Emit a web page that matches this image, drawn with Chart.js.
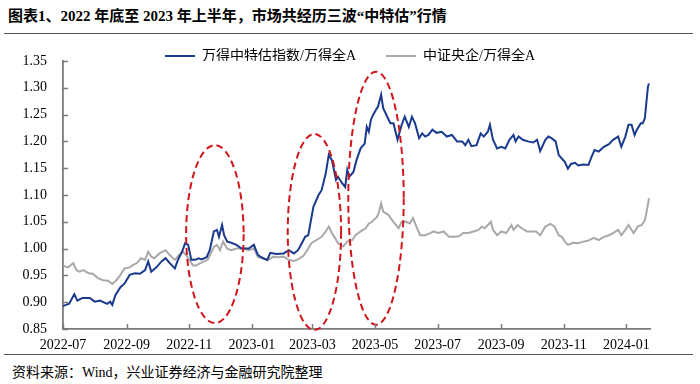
<!DOCTYPE html>
<html>
<head>
<meta charset="utf-8">
<script src="https://cdn.jsdelivr.net/npm/chart.js@4.4.1/dist/chart.umd.min.js"></script>
<style>
  html, body { margin: 0; padding: 0; background: #fff; }
  body { width: 700px; height: 384px; position: relative; overflow: hidden; }
  #title { position: absolute; left: 8px; top: 4px; font: bold 15px 'Liberation Serif', 'Noto Sans CJK SC', serif; color: #000; white-space: nowrap; }
  #topline { position: absolute; left: 4px; width: 689px; top: 33px; height: 0; border-top: 1.5px solid #555; }
  #botline { position: absolute; left: 4px; width: 689px; top: 354px; height: 0; border-top: 1.5px solid #555; }
  #source { position: absolute; left: 12px; top: 361px; font: 14px 'Liberation Serif', 'Noto Sans CJK SC', serif; color: #000; white-space: nowrap; }
  #wrap { position: absolute; left: 0; top: 19px; width: 700px; height: 335px; }
</style>
</head>
<body>
<div id="title">图表1、2022 年底至 2023 年上半年，市场共经历三波“中特估”行情</div>
<div id="topline"></div>
<div id="wrap"><canvas id="c" width="700" height="335"></canvas></div>
<div id="botline"></div>
<div id="source">资料来源：Wind，兴业证券经济与金融研究院整理</div>
<script>
// ---- data ----
const seriesNames = ['万得中特估指数/万得全A', '中证央企/万得全A'];

const blueDates = [
  '2022-07-01','2022-07-04','2022-07-07','2022-07-12','2022-07-15','2022-07-20','2022-07-27',
  '2022-08-01','2022-08-06','2022-08-13','2022-08-16','2022-08-18','2022-08-21','2022-08-26','2022-08-30',
  '2022-09-04','2022-09-09','2022-09-14','2022-09-19','2022-09-22','2022-09-25','2022-09-30',
  '2022-10-05','2022-10-09','2022-10-13','2022-10-18','2022-10-21','2022-10-25','2022-10-28','2022-10-31',
  '2022-11-03','2022-11-07','2022-11-10','2022-11-13','2022-11-18','2022-11-21','2022-11-25','2022-11-28','2022-11-30',
  '2022-12-03','2022-12-05','2022-12-08','2022-12-12','2022-12-17','2022-12-22','2022-12-29',
  '2023-01-03','2023-01-07','2023-01-12','2023-01-16','2023-01-19','2023-01-25',
  '2023-02-01','2023-02-06','2023-02-11','2023-02-15','2023-02-17','2023-02-22','2023-02-25',
  '2023-03-02','2023-03-07','2023-03-10','2023-03-14','2023-03-17','2023-03-20','2023-03-22','2023-03-24','2023-03-26','2023-03-30',
  '2023-04-02','2023-04-04','2023-04-06','2023-04-10','2023-04-13','2023-04-17','2023-04-21','2023-04-23','2023-04-25','2023-04-27','2023-04-29',
  '2023-05-02','2023-05-04','2023-05-07','2023-05-09','2023-05-13','2023-05-16','2023-05-19','2023-05-23','2023-05-27','2023-05-30',
  '2023-06-03','2023-06-06','2023-06-09','2023-06-13','2023-06-16','2023-06-19','2023-06-22','2023-06-26','2023-06-30',
  '2023-07-05','2023-07-10','2023-07-15','2023-07-20','2023-07-25','2023-07-28','2023-07-31',
  '2023-08-03','2023-08-08','2023-08-12','2023-08-15','2023-08-19','2023-08-21','2023-08-24','2023-08-28',
  '2023-09-01','2023-09-05','2023-09-09','2023-09-13','2023-09-15','2023-09-18','2023-09-22','2023-09-27',
  '2023-10-02','2023-10-06','2023-10-09','2023-10-14','2023-10-17','2023-10-20','2023-10-24','2023-10-27','2023-10-30',
  '2023-11-02','2023-11-05','2023-11-08','2023-11-12','2023-11-15','2023-11-20','2023-11-25','2023-11-28',
  '2023-12-01','2023-12-05','2023-12-10','2023-12-15','2023-12-19','2023-12-24','2023-12-27','2023-12-31',
  '2024-01-03','2024-01-06','2024-01-09','2024-01-11','2024-01-15','2024-01-17','2024-01-19','2024-01-21','2024-01-22','2024-01-23'
];
const blueValues = [
  0.893,0.895,0.897,0.915,0.903,0.908,0.908,
  0.901,0.903,0.897,0.901,0.895,0.913,0.928,0.935,
  0.951,0.954,0.953,0.960,0.976,0.957,0.965,
  0.976,0.982,0.973,0.963,0.979,0.994,1.010,1.007,
  0.979,0.979,0.982,0.980,0.984,0.997,1.032,1.035,1.022,
  1.044,1.025,1.013,1.011,1.007,1.000,1.000,
  1.007,0.988,0.982,0.979,0.992,0.990,
  0.991,0.997,0.991,0.997,1.004,1.022,1.025,
  1.078,1.100,1.109,1.140,1.175,1.165,1.147,1.128,1.134,1.122,
  1.115,1.147,1.134,1.143,1.165,1.187,1.196,1.227,1.218,1.240,1.249,
  1.259,1.265,1.287,1.262,1.246,1.234,1.234,1.203,1.231,1.246,
  1.227,1.246,1.234,1.206,1.215,1.209,1.212,1.222,1.216,
  1.218,1.209,1.212,1.200,1.200,1.193,1.203,
  1.191,1.193,1.215,1.209,1.218,1.231,1.203,1.187,
  1.190,1.187,1.203,1.212,1.200,1.209,1.203,1.200,
  1.198,1.203,1.182,1.203,1.209,1.206,1.200,1.175,1.168,
  1.162,1.149,1.158,1.160,1.155,1.157,1.156,1.171,
  1.184,1.181,1.190,1.195,1.203,1.209,1.190,1.209,
  1.231,1.231,1.212,1.221,1.234,1.234,1.243,1.283,1.302,1.308
];

const grayDates = [
  '2022-07-01','2022-07-06','2022-07-11','2022-07-14','2022-07-17','2022-07-21','2022-07-26','2022-07-30',
  '2022-08-04','2022-08-09','2022-08-14','2022-08-18','2022-08-22','2022-08-26','2022-08-30',
  '2022-09-04','2022-09-07','2022-09-11','2022-09-15','2022-09-19','2022-09-22','2022-09-25','2022-09-28',
  '2022-10-03','2022-10-09','2022-10-13','2022-10-18','2022-10-22','2022-10-26','2022-10-29',
  '2022-11-01','2022-11-05','2022-11-08','2022-11-13','2022-11-19','2022-11-25','2022-11-28',
  '2022-12-01','2022-12-04','2022-12-08','2022-12-12','2022-12-17','2022-12-24','2022-12-29',
  '2023-01-03','2023-01-07','2023-01-12','2023-01-17','2023-01-22','2023-01-27',
  '2023-02-01','2023-02-06','2023-02-11','2023-02-15','2023-02-20','2023-02-23','2023-02-28',
  '2023-03-05','2023-03-10','2023-03-14','2023-03-17','2023-03-20','2023-03-23','2023-03-26','2023-03-31',
  '2023-04-04','2023-04-09','2023-04-12','2023-04-17','2023-04-22','2023-04-25','2023-04-28',
  '2023-05-03','2023-05-05','2023-05-07','2023-05-09','2023-05-14','2023-05-19','2023-05-24','2023-05-27','2023-05-31',
  '2023-06-04','2023-06-07','2023-06-11','2023-06-14','2023-06-19','2023-06-24','2023-06-27',
  '2023-07-02','2023-07-07','2023-07-12','2023-07-17','2023-07-22','2023-07-26','2023-07-31',
  '2023-08-05','2023-08-10','2023-08-13','2023-08-16','2023-08-19','2023-08-22','2023-08-24','2023-08-28',
  '2023-09-01','2023-09-06','2023-09-11','2023-09-13','2023-09-17','2023-09-21','2023-09-26',
  '2023-10-01','2023-10-05','2023-10-09','2023-10-14','2023-10-19','2023-10-23','2023-10-27','2023-10-30',
  '2023-11-02','2023-11-05','2023-11-10','2023-11-15','2023-11-20','2023-11-25','2023-11-30',
  '2023-12-05','2023-12-10','2023-12-15','2023-12-19','2023-12-24','2023-12-27','2023-12-31',
  '2024-01-03','2024-01-08','2024-01-12','2024-01-16','2024-01-19','2024-01-21','2024-01-23'
];
const grayValues = [
  0.968,0.965,0.973,0.960,0.957,0.960,0.954,0.953,
  0.945,0.941,0.940,0.934,0.941,0.951,0.963,
  0.965,0.969,0.973,0.982,0.979,0.994,0.985,0.982,
  0.991,0.997,0.988,0.979,0.988,0.994,0.988,
  0.979,0.968,0.969,0.974,0.979,1.003,1.007,
  0.997,1.013,1.000,0.997,1.000,1.000,0.997,
  1.000,0.984,0.982,0.979,0.985,0.984,
  0.985,0.979,0.977,0.980,0.986,0.994,1.010,
  1.016,1.022,1.032,1.041,1.029,1.020,1.010,1.004,
  1.013,1.016,1.025,1.032,1.038,1.047,1.050,
  1.059,1.069,1.084,1.069,1.063,1.050,1.038,1.050,1.050,
  1.047,1.057,1.038,1.025,1.025,1.029,1.032,
  1.029,1.032,1.022,1.022,1.023,1.029,1.029,
  1.032,1.035,1.041,1.038,1.044,1.050,1.035,1.025,
  1.032,1.029,1.044,1.035,1.044,1.038,1.032,
  1.032,1.032,1.025,1.041,1.046,1.041,1.025,1.022,
  1.013,1.007,1.011,1.010,1.013,1.015,1.020,
  1.016,1.022,1.025,1.029,1.035,1.025,1.035,
  1.044,1.029,1.041,1.044,1.053,1.072,1.094
];

const xStartDate = '2022-07-01';
const xEndDate = '2024-01-24';
const xTickDates = ['2022-07-01','2022-09-01','2022-11-01','2023-01-01','2023-03-01','2023-05-01','2023-07-01','2023-09-01','2023-11-01','2024-01-01'];
const xTickLabels = ['2022-07','2022-09','2022-11','2023-01','2023-03','2023-05','2023-07','2023-09','2023-11','2024-01'];
const yTickValues = [0.85,0.90,0.95,1.00,1.05,1.10,1.15,1.20,1.25,1.30,1.35];

// annotation ellipses (three waves), in data units
const ellipseCenterDates = ['2022-11-26','2023-03-03','2023-05-02'];
const ellipseCenterValues = [1.027, 1.031, 1.094];
const ellipseHalfDays = [28, 26, 27];
const ellipseHalfValues = [0.166, 0.183, 0.236];

// ---- helpers ----
const DAY = 86400000;
function dayOf(s) {
  const [y, m, d] = s.split('-').map(Number);
  const [y0, m0, d0] = xStartDate.split('-').map(Number);
  return Math.round((Date.UTC(y, m - 1, d) - Date.UTC(y0, m0 - 1, d0)) / DAY);
}
function toPoints(dates, vals) { return dates.map((d, i) => ({ x: dayOf(d), y: vals[i] })); }

const AXIS_COLOR = '#7a7a7a';
const TICK_FONT = { family: "'Liberation Serif', 'Times New Roman', serif", size: 14 };

const inwardTicks = {
  id: 'inwardTicks',
  afterDraw(chart) {
    const ctx = chart.ctx, xs = chart.scales.x, ys = chart.scales.y, a = chart.chartArea;
    ctx.save();
    ctx.strokeStyle = AXIS_COLOR; ctx.lineWidth = 1.5;
    ctx.beginPath();
    xs.ticks.forEach(t => { const px = Math.round(xs.getPixelForValue(t.value)) + 0.5; ctx.moveTo(px, a.bottom); ctx.lineTo(px, a.bottom - 5); });
    ys.ticks.forEach(t => { const py = Math.round(ys.getPixelForValue(t.value)) + 0.5; ctx.moveTo(a.left, py); ctx.lineTo(a.left + 5, py); });
    ctx.stroke();
    ctx.restore();
  }
};

const waveEllipses = {
  id: 'waveEllipses',
  afterDatasetsDraw(chart) {
    const ctx = chart.ctx, xs = chart.scales.x, ys = chart.scales.y;
    ctx.save();
    ctx.strokeStyle = '#d0161b'; ctx.lineWidth = 2; ctx.setLineDash([7, 4]);
    ellipseCenterDates.forEach((d, i) => {
      const c = dayOf(d);
      const cx = xs.getPixelForValue(c), cy = ys.getPixelForValue(ellipseCenterValues[i]);
      const rx = Math.abs(xs.getPixelForValue(c + ellipseHalfDays[i]) - cx);
      const ry = Math.abs(ys.getPixelForValue(ellipseCenterValues[i] + ellipseHalfValues[i]) - cy);
      ctx.beginPath(); ctx.ellipse(cx, cy, rx, ry, 0, 0, Math.PI * 2); ctx.stroke();
    });
    ctx.restore();
  }
};

new Chart(document.getElementById('c'), {
  type: 'line',
  data: {
    datasets: [
      { label: seriesNames[0], data: toPoints(blueDates, blueValues), borderColor: '#1a3a8e', backgroundColor: '#1a3a8e', borderWidth: 2, pointRadius: 0, pointStyle: 'line', tension: 0 },
      { label: seriesNames[1], data: toPoints(grayDates, grayValues), borderColor: '#a9a9a9', backgroundColor: '#a9a9a9', borderWidth: 2, pointRadius: 0, pointStyle: 'line', tension: 0 }
    ]
  },
  options: {
    responsive: false,
    animation: false,
    devicePixelRatio: 1,
    layout: { padding: 0 },
    plugins: {
      tooltip: { enabled: false },
      legend: {
        position: 'top',
        align: 'center',
        maxHeight: 42,
        labels: {
          usePointStyle: true, pointStyle: 'line', pointStyleWidth: 30,
          padding: 30, color: '#000',
          font: { family: "'Liberation Serif', 'Noto Sans CJK SC', serif", size: 14 }
        }
      }
    },
    scales: {
      x: {
        type: 'linear',
        min: dayOf(xStartDate), max: dayOf(xEndDate),
        afterBuildTicks: s => { s.ticks = xTickDates.map(d => ({ value: dayOf(d) })); },
        afterFit: s => { s.height = 25; },
        grid: { display: true, drawOnChartArea: false, drawTicks: false },
        border: { display: true, color: AXIS_COLOR, width: 1.8 },
        ticks: {
          autoSkip: false, maxRotation: 0, minRotation: 0, padding: 8, color: '#000', font: TICK_FONT,
          callback: v => { const i = xTickDates.findIndex(d => dayOf(d) === v); return i >= 0 ? xTickLabels[i] : ''; }
        }
      },
      y: {
        position: 'left',
        min: yTickValues[0], max: yTickValues[yTickValues.length - 1],
        afterBuildTicks: s => { s.ticks = yTickValues.map(v => ({ value: v })); },
        afterFit: s => { s.width = 63; },
        grid: { display: true, drawOnChartArea: false, drawTicks: false },
        border: { display: true, color: AXIS_COLOR, width: 1.8 },
        ticks: { padding: 16, color: '#000', font: TICK_FONT, callback: v => Number(v).toFixed(2) }
      },
      yR: {
        position: 'right', display: true,
        afterFit: s => { s.width = 50; },
        grid: { display: false }, border: { display: false }, ticks: { display: false }
      }
    }
  },
  plugins: [waveEllipses, inwardTicks]
});
</script>
</body>
</html>
